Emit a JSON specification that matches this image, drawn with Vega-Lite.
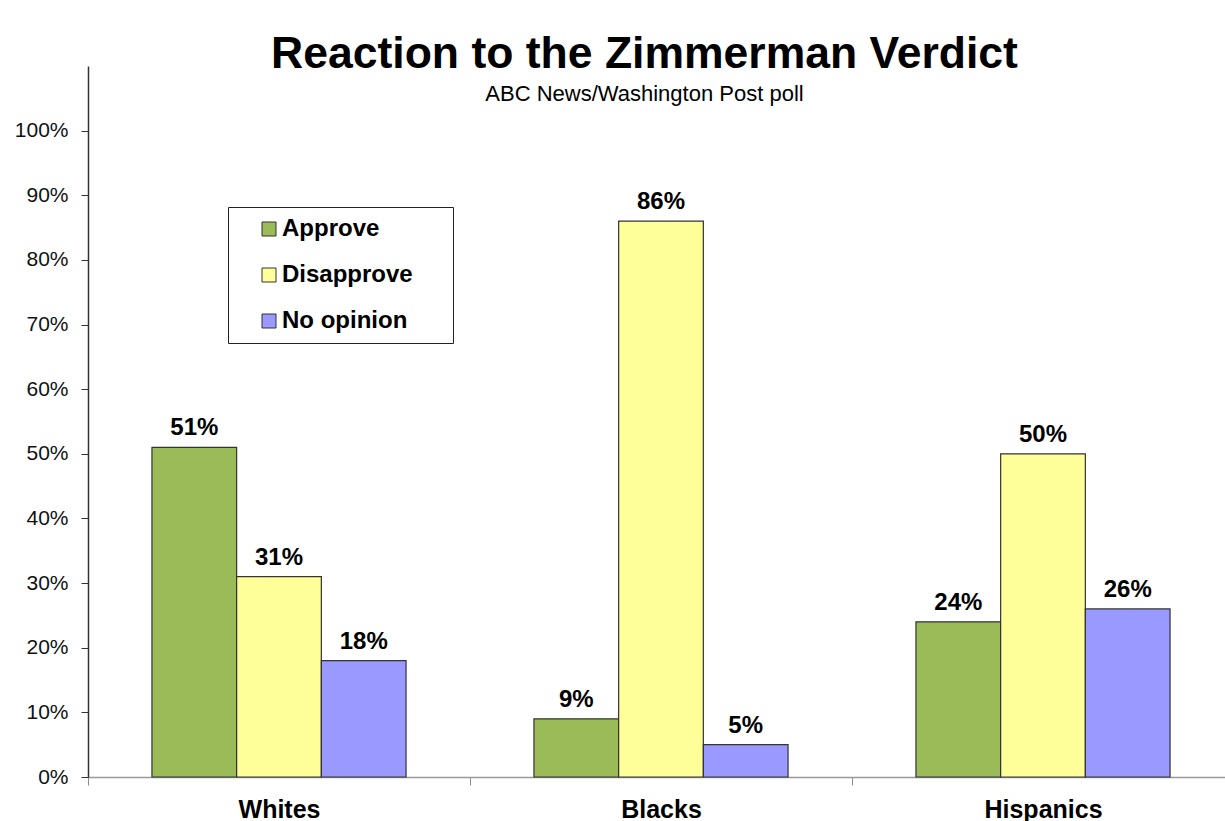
{
  "$schema": "https://vega.github.io/schema/vega-lite/v6.json",
  "width": 1137,
  "height": 711,
  "autosize": "none",
  "padding": {"left": 88, "top": 66, "right": 0, "bottom": 44},
  "background": "white",
  "config": {
    "view": {"stroke": null},
    "font": "Liberation Sans"
  },
  "title": {
    "text": "Reaction to the Zimmerman Verdict",
    "subtitle": "ABC News/Washington Post poll",
    "fontSize": 44.5,
    "fontWeight": "bold",
    "color": "#000000",
    "subtitleFontSize": 22,
    "subtitleColor": "#000000",
    "subtitlePadding": 7,
    "anchor": "middle",
    "frame": "group",
    "orient": "top",
    "offset": -40,
    "dx": -12
  },
  "data": {
    "values": [
      {"group": "Whites", "response": "Approve", "value": 0.51},
      {"group": "Whites", "response": "Disapprove", "value": 0.31},
      {"group": "Whites", "response": "No opinion", "value": 0.18},
      {"group": "Blacks", "response": "Approve", "value": 0.09},
      {"group": "Blacks", "response": "Disapprove", "value": 0.86},
      {"group": "Blacks", "response": "No opinion", "value": 0.05},
      {"group": "Hispanics", "response": "Approve", "value": 0.24},
      {"group": "Hispanics", "response": "Disapprove", "value": 0.50},
      {"group": "Hispanics", "response": "No opinion", "value": 0.26}
    ]
  },
  "encoding": {
    "x": {
      "field": "group",
      "type": "nominal",
      "sort": ["Whites", "Blacks", "Hispanics"],
      "scale": {"range": [0, 1146], "paddingInner": 0, "paddingOuter": 0},
      "axis": {
        "title": null,
        "labelAngle": 0,
        "labelFont": "Liberation Sans",
        "labelFontSize": 25,
        "labelFontWeight": "bold",
        "labelColor": "#000000",
        "labelPadding": 12,
        "tickBand": "extent",
        "tickSize": 8,
        "tickColor": "#888888",
        "domainColor": "#999999",
        "domainWidth": 1.5,
        "grid": false
      }
    },
    "xOffset": {
      "field": "response",
      "sort": ["Approve", "Disapprove", "No opinion"],
      "scale": {"paddingInner": 0, "paddingOuter": 0.755}
    },
    "y": {
      "field": "value",
      "type": "quantitative",
      "scale": {"domain": [0, 1.1], "nice": false, "zero": true},
      "axis": {
        "title": null,
        "values": [0, 0.1, 0.2, 0.3, 0.4, 0.5, 0.6, 0.7, 0.8, 0.9, 1.0],
        "format": ".0%",
        "labelFont": "Liberation Sans",
        "labelFontSize": 21,
        "labelColor": "#111111",
        "labelPadding": 13,
        "tickSize": 7,
        "tickColor": "#333333",
        "domainColor": "#333333",
        "domainWidth": 1.5,
        "grid": false
      }
    }
  },
  "layer": [
    {
      "mark": {"type": "bar", "stroke": "#333333", "strokeWidth": 1.2},
      "encoding": {
        "color": {
          "field": "response",
          "type": "nominal",
          "sort": ["Approve", "Disapprove", "No opinion"],
          "scale": {
            "domain": ["Approve", "Disapprove", "No opinion"],
            "range": ["#9BBB59", "#FFFF99", "#9999FF"]
          },
          "legend": {
            "title": " ",
            "titleOrient": "right",
            "titleFontSize": 20,
            "titlePadding": 30,
            "orient": "none",
            "legendX": 140,
            "legendY": 141,
            "direction": "vertical",
            "fillColor": "white",
            "strokeColor": "#222222",
            "padding": 10,
            "symbolType": "square",
            "symbolSize": 196,
            "symbolStrokeColor": "#333333",
            "symbolStrokeWidth": 1,
            "symbolOffset": 19,
            "labelFont": "Liberation Sans",
            "labelFontSize": 24,
            "labelFontWeight": "bold",
            "labelColor": "#000000",
            "labelOffset": 1,
            "rowPadding": 22,
            "labelLimit": 400
          }
        }
      }
    },
    {
      "mark": {
        "type": "text",
        "baseline": "alphabetic",
        "dy": -12,
        "fontSize": 24,
        "fontWeight": "bold",
        "color": "#000000",
        "font": "Liberation Sans"
      },
      "encoding": {
        "text": {"field": "value", "type": "quantitative", "format": ".0%"}
      }
    }
  ]
}
